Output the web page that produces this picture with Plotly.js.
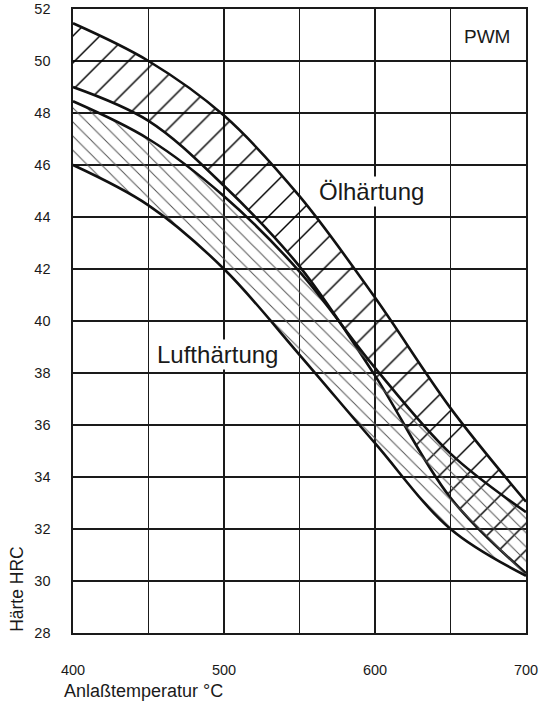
<!DOCTYPE html>
<html>
<head>
<meta charset="utf-8">
<script src="https://cdn.plot.ly/plotly-3.0.1.min.js"></script>
<style>html,body{margin:0;padding:0;background:#fff;}#chart{width:543px;height:702px;}</style>
</head>
<body>
<div id="chart"></div>
<script>
// Anlaßtemperatur °C
const temps = [400, 450, 500, 550, 600, 650, 700];
// Ölhärtung band (HRC)
const oelUpper = [51.45, 50.0, 47.9, 44.8, 40.9, 36.65, 33.05];
const oelLower = [49.0, 47.7, 45.2, 42.1, 37.9, 33.2, 30.3];
// Lufthärtung band (HRC)
const luftUpper = [48.45, 47.0, 44.8, 41.9, 38.2, 34.9, 32.65];
const luftLower = [46.0, 44.45, 42.0, 38.7, 35.3, 32.0, 30.2];

const xTickVals = [400, 450, 500, 550, 600, 650, 700];
const xTickText = ['400', '', '500', '', '600', '', '700'];
const yTickVals = [28, 30, 32, 34, 36, 38, 40, 42, 44, 46, 48, 50, 52];

const curveLine = {color: '#111', width: 2.6, shape: 'spline', smoothing: 1.0};

const traces = [
  {x: temps, y: oelLower, mode: 'lines', line: curveLine, hoverinfo: 'skip'},
  {x: temps, y: oelUpper, mode: 'lines', line: curveLine, fill: 'tonexty',
   fillcolor: 'rgba(0,0,0,0)',
   fillpattern: {shape: '/', size: 19, solidity: 0.075, fgcolor: '#000', bgcolor: 'rgba(0,0,0,0)', fillmode: 'replace'},
   hoverinfo: 'skip'},
  {x: temps, y: luftLower, mode: 'lines', line: curveLine, hoverinfo: 'skip'},
  {x: temps, y: luftUpper, mode: 'lines', line: curveLine, fill: 'tonexty',
   fillcolor: 'rgba(0,0,0,0)',
   fillpattern: {shape: '\\', size: 10, solidity: 0.1, fgcolor: '#555', bgcolor: 'rgba(0,0,0,0)', fillmode: 'replace'},
   hoverinfo: 'skip'}
];

const font = {family: 'Liberation Sans, Arial, sans-serif', color: '#1a1a1a'};

const layout = {
  width: 543, height: 702,
  margin: {l: 73, r: 17, t: 9, b: 69},
  paper_bgcolor: '#fff', plot_bgcolor: '#fff',
  showlegend: false,
  font: Object.assign({size: 13}, font),
  xaxis: {
    range: [400, 700], tickmode: 'array', tickvals: xTickVals, ticktext: xTickText,
    showgrid: true, gridcolor: '#1a1a1a', gridwidth: 1.6,
    showline: true, linecolor: '#1a1a1a', linewidth: 1.6, mirror: true,
    zeroline: false, ticks: '', ticklabelstandoff: 23,
    tickfont: Object.assign({size: 14.5}, font), fixedrange: true
  },
  yaxis: {
    range: [28, 52], tickmode: 'array', tickvals: yTickVals,
    showgrid: true, gridcolor: '#1a1a1a', gridwidth: 1.6,
    showline: true, linecolor: '#1a1a1a', linewidth: 1.6, mirror: true,
    zeroline: false, ticks: '', ticklabelstandoff: 18,
    tickfont: Object.assign({size: 14.5}, font), fixedrange: true
  },
  annotations: [
    {text: 'PWM', xref: 'x', yref: 'y', x: 674, y: 50.96, showarrow: false,
     xanchor: 'center', yanchor: 'middle', font: Object.assign({size: 19}, font)},
    {text: 'Ölhärtung', xref: 'x', yref: 'y', x: 598, y: 44.98, showarrow: false,
     xanchor: 'center', yanchor: 'middle', bgcolor: '#fff', font: Object.assign({size: 24}, font)},
    {text: 'Lufthärtung', xref: 'x', yref: 'y', x: 496, y: 38.73, showarrow: false,
     xanchor: 'center', yanchor: 'middle', bgcolor: '#fff', font: Object.assign({size: 24}, font)},
    {text: 'Härte HRC', xref: 'paper', yref: 'paper', x: -0.124, y: 0.0705, showarrow: false,
     textangle: -90, xanchor: 'center', yanchor: 'middle', font: Object.assign({size: 17.5}, font)},
    {text: 'Anlaßtemperatur °C', xref: 'paper', yref: 'paper', x: -0.0243, y: -0.093, showarrow: false,
     xanchor: 'left', yanchor: 'middle', font: Object.assign({size: 18}, font)}
  ]
};

Plotly.newPlot('chart', traces, layout, {displayModeBar: false, staticPlot: true});
</script>
</body>
</html>
